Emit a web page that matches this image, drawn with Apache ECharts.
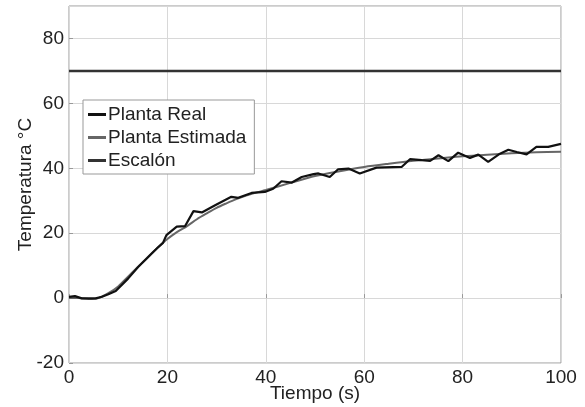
<!DOCTYPE html>
<html>
<head>
<meta charset="utf-8">
<script src="https://cdn.jsdelivr.net/npm/echarts@6/dist/echarts.min.js"></script>
<style>html,body{margin:0;padding:0;background:#fff}#c{width:585px;height:407px}</style>
</head>
<body>
<div id="c"></div>
<script>
// Planta Real (measured)
var realT = [0, 1.2, 2.6, 5.4, 6.7, 8, 9.5, 12, 14, 16, 18, 19.1, 19.8, 21.9, 23.6, 25.3, 27, 29.7, 33, 34.4, 37.1, 39.8, 41.5, 43.2, 45.3, 47.3, 49.7, 50.7, 53, 54.7, 56.8, 59.1, 62.5, 67.6, 69.3, 71.7, 73.4, 75.1, 77.1, 79.1, 81.5, 83.2, 85.2, 87.6, 89.3, 91, 93, 95, 97.4, 100];
var realV = [0.4, 0.6, -0.1, -0.1, 0.4, 1.2, 2.2, 6, 9.5, 12.5, 15.5, 17, 19.4, 22, 22.2, 26.8, 26.4, 28.6, 31.2, 30.9, 32.4, 32.7, 33.7, 36, 35.6, 37.3, 38.2, 38.4, 37.3, 39.7, 39.9, 38.4, 40.2, 40.4, 42.8, 42.5, 42.3, 44, 42.2, 44.8, 43.2, 44.2, 42, 44.5, 45.7, 45, 44.3, 46.6, 46.6, 47.5];
// Planta Estimada (model)
var estT = [0, 2, 4, 6, 8, 10, 12, 14, 16, 18, 20, 22, 24, 26, 28, 30, 32, 34, 36, 38, 40, 45, 50, 55, 60, 65, 70, 75, 80, 85, 90, 95, 100];
var estV = [0, 0, -0.3, 0, 1.5, 3.6, 6.6, 9.6, 12.6, 15.5, 18.2, 20.4, 22.2, 24.3, 26.1, 27.8, 29.2, 30.5, 31.6, 32.5, 33.3, 35.5, 37.6, 39.1, 40.4, 41.4, 42.3, 43, 43.7, 44.2, 44.6, 44.9, 45.1];
// Escalón (step)
var stepT = [0, 100];
var stepV = [70, 70];
var xTicks = [0, 20, 40, 60, 80, 100];
var yTicks = [-20, 0, 20, 40, 60, 80];

function pairs(t, v) { return t.map(function (x, i) { return [x, v[i]]; }); }

var font = '"Liberation Sans", Arial, sans-serif';
var chart = echarts.init(document.getElementById('c'), null, {renderer: 'canvas'});
chart.setOption({
  animation: false,
  backgroundColor: '#fff',
  grid: {left: 69, right: 24, top: 6, bottom: 44, outerBoundsMode: 'none', show: true, borderColor: '#999', borderWidth: 1},
  legend: {
    orient: 'vertical', left: 83, top: 100,
    backgroundColor: '#fff', borderColor: '#999', borderWidth: 1,
    padding: [5, 8, 4, 5], itemGap: 4,
    itemWidth: 18, itemHeight: 3, icon: 'rect',
    textStyle: {fontFamily: font, fontSize: 19, color: '#222', padding: [0, 0, 0, -3]},
    data: ['Planta Real', 'Planta Estimada', 'Escalón']
  },
  xAxis: {
    type: 'value', min: 0, max: 100, interval: 20,
    name: 'Tiempo (s)', nameLocation: 'middle', nameGap: 21, nameMoveOverlap: false,
    nameTextStyle: {fontFamily: font, fontSize: 19, color: '#222'},
    axisLine: {show: false},
    axisTick: {show: true, inside: true, length: 4, lineStyle: {color: '#999'}},
    axisLabel: {fontFamily: font, fontSize: 19, color: '#222', margin: 5,
      formatter: function (v) { return xTicks.indexOf(v) >= 0 ? String(v) : ''; }},
    splitLine: {show: true, lineStyle: {color: '#d8d8d8', width: 1}}
  },
  yAxis: {
    type: 'value', min: -20, max: 90, interval: 20,
    name: 'Temperatura °C', nameLocation: 'middle', nameGap: 34, nameRotate: 90, nameMoveOverlap: false,
    nameTextStyle: {fontFamily: font, fontSize: 19, color: '#222'},
    axisLine: {show: false},
    axisTick: {show: true, inside: true, length: 4, lineStyle: {color: '#999'}},
    axisLabel: {fontFamily: font, fontSize: 19, color: '#222', margin: 5, showMaxLabel: false,
      formatter: function (v) { return yTicks.indexOf(v) >= 0 ? String(v) : ''; }},
    splitLine: {show: true, lineStyle: {color: '#d8d8d8', width: 1}}
  },
  series: [
    {name: 'Planta Real', type: 'line', data: pairs(realT, realV), showSymbol: false, symbol: 'none',
      itemStyle: {color: '#111'}, lineStyle: {color: '#111', width: 2.2}, z: 4},
    {name: 'Planta Estimada', type: 'line', data: pairs(estT, estV), showSymbol: false, symbol: 'none', smooth: 0.3,
      itemStyle: {color: '#666'}, lineStyle: {color: '#666', width: 2}, z: 3},
    {name: 'Escalón', type: 'line', data: pairs(stepT, stepV), showSymbol: false, symbol: 'none',
      itemStyle: {color: '#333'}, lineStyle: {color: '#333', width: 2.5}, z: 2}
  ]
});
</script>
</body>
</html>
